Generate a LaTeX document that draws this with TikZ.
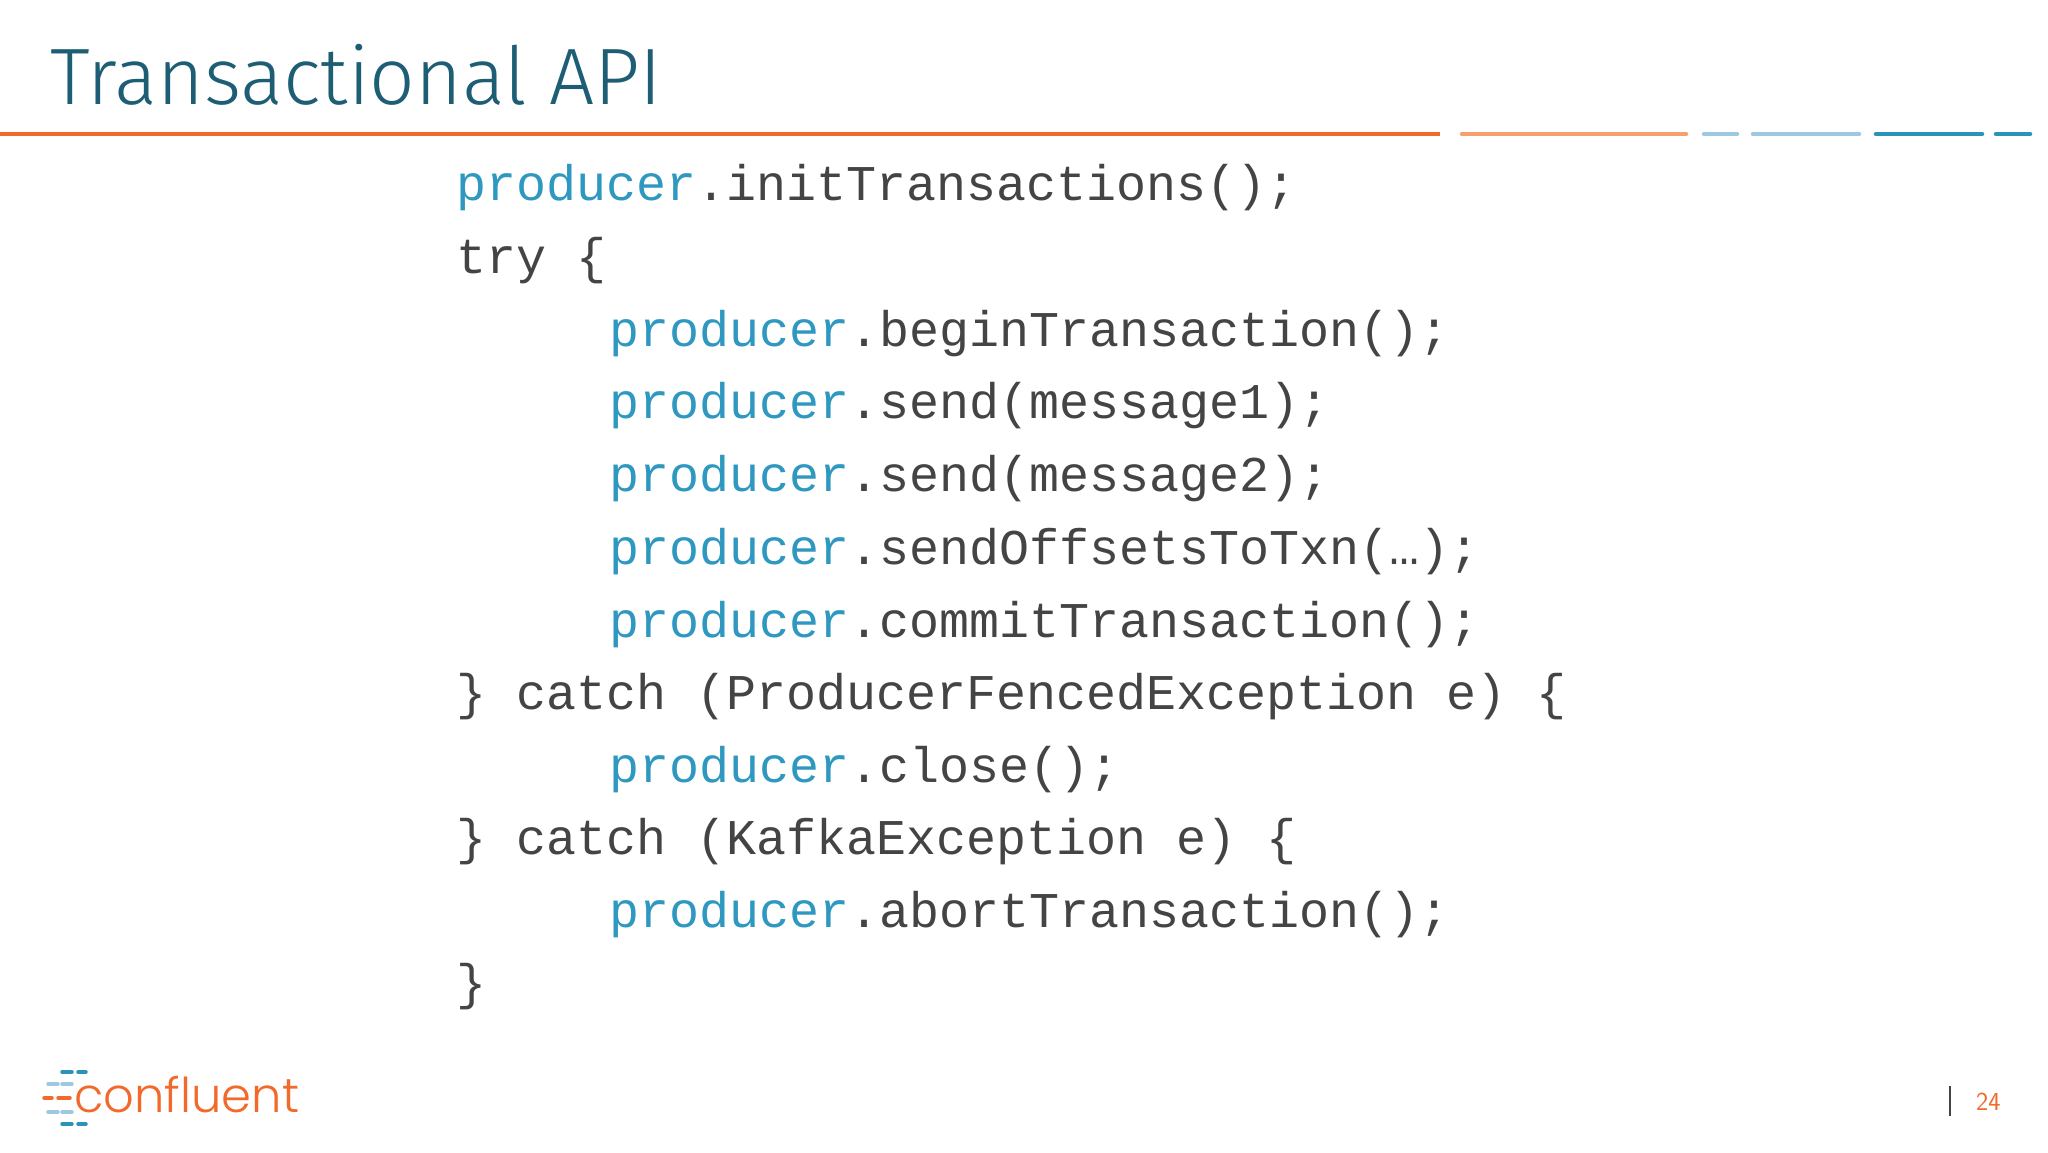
\documentclass[tikz,border=0pt]{standalone}
\usepackage{fontspec}
\setmonofont{Liberation Mono}
\newfontfamily\titlefont{Fira Sans Light}
\newfontfamily\logofont{Poppins Light}
\definecolor{codegray}{HTML}{444444}
\definecolor{codeblue}{HTML}{2E98C0}
\definecolor{titleteal}{HTML}{1D5E74}
\definecolor{corange}{HTML}{F26A2B}
\definecolor{lorange}{HTML}{F7A06E}
\definecolor{lblue}{HTML}{9CC8E2}
\definecolor{dteal}{HTML}{2A93B8}
\begin{document}
\begin{tikzpicture}[x=1pt,y=-1pt,
  code/.style={anchor=base west,inner sep=0pt,font=\fontsize{50}{60}\ttfamily,text=codegray},
  seg/.style={line width=4.5pt,line cap=round}]
\useasboundingbox (0,0) rectangle (2048,1152);
\fill[white] (0,0) rectangle (2048,1152);
\node[anchor=base west,inner sep=0pt,font=\fontsize{80}{90}\titlefont,text=titleteal] (title) at (50,104) {Transactional API};
\draw[seg,corange,line cap=butt] (0,134) -- (1440,134);
\draw[seg,lorange] (1462,134) -- (1686,134);
\draw[seg,lblue] (1704,134) -- (1737,134);
\draw[seg,lblue] (1753,134) -- (1859,134);
\draw[seg,dteal] (1876,134) -- (1982,134);
\draw[seg,dteal] (1996,134) -- (2030,134);
\def\P{\textcolor{codeblue}{producer}}
\node[code] (l1) at (456,200) {\P.initTransactions();};
\node[code] (l2) at (456,273) {try \{};
\node[code] (l3) at (609,346) {\P.beginTransaction();};
\node[code] (l4) at (609,418) {\P.send(message1);};
\node[code] (l5) at (609,491) {\P.send(message2);};
\node[code] (l6) at (609,564) {\P.sendOffsetsToTxn(…);};
\node[code] (l7) at (609,637) {\P.commitTransaction();};
\node[code] (l8) at (456,709) {\} catch (ProducerFencedException e) \{};
\node[code] (l9) at (609,782) {\P.close();};
\node[code] (l10) at (456,854) {\} catch (KafkaException e) \{};
\node[code] (l11) at (609,927) {\P.abortTransaction();};
\node[code] (l12) at (456,999) {\}};
% logo
\node[anchor=base west,inner sep=0pt,font=\fontsize{48}{52}\logofont,text=corange] (logo) at (74,1112) {confluent};
\foreach \a/\b/\y/\c in {62/72/1072/dteal,78/86/1072/dteal,48/58/1084/lblue,62/72/1084/lblue,44/52/1098/corange,58/70/1098/corange,48/58/1112/lblue,62/72/1112/lblue,62/72/1124/dteal,78/86/1124/dteal}
  \draw[line width=3.5pt,line cap=round,\c] (\a,\y) -- (\b,\y);
\draw[line width=2pt,codegray] (1950,1086) -- (1950,1116);
\node[anchor=base west,inner sep=0pt,font=\fontsize{26}{30}\sffamily,text=corange] (pg) at (1976,1110) {24};
\end{tikzpicture}
\end{document}
